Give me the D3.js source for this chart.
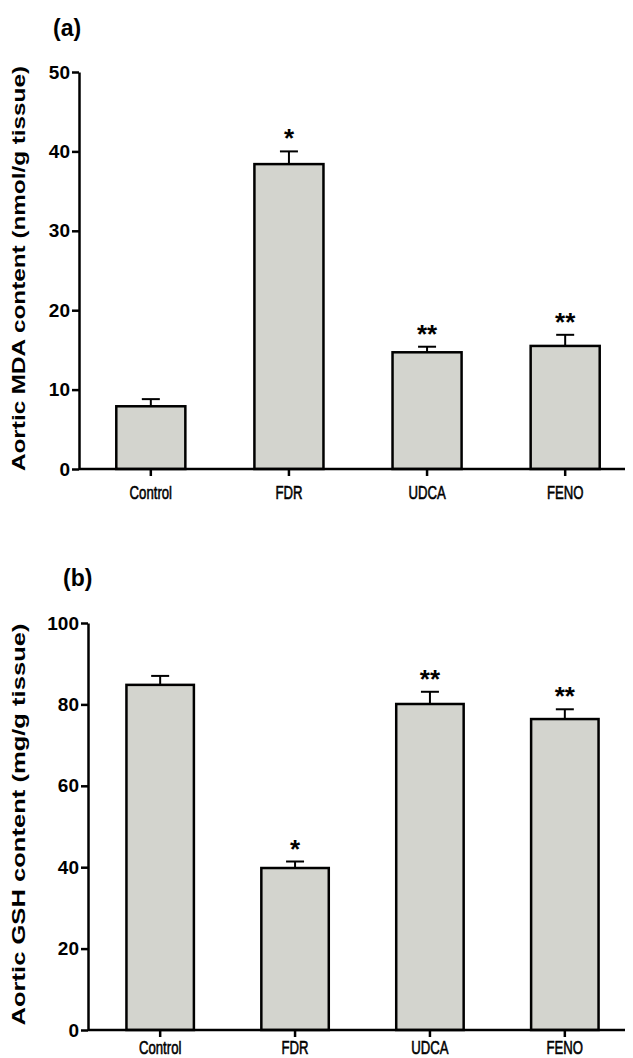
<!DOCTYPE html>
<meta charset="utf-8">
<style>
  body { margin: 0; background: #fff; }
  text { font-family: "Liberation Sans", Arial, sans-serif; font-weight: bold; fill: #000; }
  .axis path, .axis line { stroke: #000; stroke-width: 2.5; }
</style>
<body>
<script src="https://d3js.org/d3.v7.min.js"></script>
<script>
  var groups = ["Control", "FDR", "UDCA", "FENO"];

  var mdaMean = [7.9, 38.4, 14.7, 15.5];
  var mdaErr = [0.9, 1.6, 0.7, 1.4];
  var mdaSig = ["", "*", "**", "**"];
  var mdaTicks = [0, 10, 20, 30, 40, 50];

  var gshMean = [84.8, 39.8, 80.1, 76.4];
  var gshErr = [2.2, 1.6, 3.0, 2.4];
  var gshSig = ["", "*", "**", "**"];
  var gshTicks = [0, 20, 40, 60, 80, 100];

  var width = 633, height = 1058;
  var svg = d3.select("body").append("svg")
    .attr("width", width)
    .attr("height", height);

  drawPanel({
    tag: "(a)", tagX: 53, tagY: 36,
    left: 79, right: 625, top: 72, bottom: 469,
    outer: 0.27, max: 50, ticks: mdaTicks,
    mean: mdaMean, err: mdaErr, sig: mdaSig,
    label: "Aortic MDA content (nmol/g tissue)", labelLen: 405, labelX: 25,
    xLabelY: 499
  });

  drawPanel({
    tag: "(b)", tagX: 63, tagY: 586,
    left: 88, right: 625, top: 623, bottom: 1030,
    outer: 0.285, max: 100, ticks: gshTicks,
    mean: gshMean, err: gshErr, sig: gshSig,
    label: "Aortic GSH content (mg/g tissue)", labelLen: 402, labelX: 25,
    xLabelY: 1054
  });

  function drawPanel(p) {
    var g = svg.append("g");

    // band step chosen so the four bars sit where the original puts them
    var step = (p.right - p.left + 12) / (groups.length - 0.5 + 2 * p.outer);
    var x = d3.scaleBand()
      .domain(groups)
      .range([p.left, p.left + step * (groups.length - 0.5 + 2 * p.outer)])
      .paddingInner(0.5)
      .paddingOuter(p.outer);

    var y = d3.scaleLinear()
      .domain([0, p.max])
      .range([p.bottom, p.top]);

    g.append("text")
      .attr("x", p.tagX)
      .attr("y", p.tagY)
      .style("font-size", "23px")
      .text(p.tag);

    // bars
    g.selectAll("rect.bar")
      .data(groups)
      .join("rect")
      .attr("class", "bar")
      .attr("x", d => x(d))
      .attr("width", x.bandwidth())
      .attr("y", (d, i) => y(p.mean[i]))
      .attr("height", (d, i) => y(0) - y(p.mean[i]))
      .attr("fill", "#d3d4ce")
      .attr("stroke", "#000")
      .attr("stroke-width", 2.5);

    // error bars (upper only)
    var eb = g.selectAll("g.err")
      .data(groups)
      .join("g")
      .attr("class", "err");
    eb.append("line")
      .attr("x1", d => x(d) + x.bandwidth() / 2)
      .attr("x2", d => x(d) + x.bandwidth() / 2)
      .attr("y1", (d, i) => y(p.mean[i]))
      .attr("y2", (d, i) => y(p.mean[i] + p.err[i]))
      .attr("stroke", "#000").attr("stroke-width", 2);
    eb.append("line")
      .attr("x1", d => x(d) + x.bandwidth() / 2 - 9)
      .attr("x2", d => x(d) + x.bandwidth() / 2 + 9)
      .attr("y1", (d, i) => y(p.mean[i] + p.err[i]))
      .attr("y2", (d, i) => y(p.mean[i] + p.err[i]))
      .attr("stroke", "#000").attr("stroke-width", 2);

    // significance stars
    g.selectAll("text.sig")
      .data(groups)
      .join("text")
      .attr("class", "sig")
      .attr("x", d => x(d) + x.bandwidth() / 2)
      .attr("y", (d, i) => y(p.mean[i] + p.err[i]) - 4)
      .attr("text-anchor", "middle")
      .style("font-size", "26px")
      .text((d, i) => p.sig[i]);

    // y axis
    var ya = g.append("g")
      .attr("class", "axis")
      .attr("transform", "translate(" + p.left + ",0)")
      .call(d3.axisLeft(y).tickValues(p.ticks).tickSize(7).tickSizeOuter(0).tickPadding(2));
    ya.selectAll("text")
      .style("font-size", "19px")
      .style("font-family", "'Liberation Sans', Arial, sans-serif")
      .style("font-weight", "bold");

    // x axis
    var xa = g.append("g")
      .attr("class", "axis")
      .attr("transform", "translate(0," + p.bottom + ")")
      .call(d3.axisBottom(x).tickSize(7).tickSizeOuter(0).tickFormat(""));
    xa.select(".domain").attr("d", "M" + p.left + ",0H" + p.right);

    g.selectAll("text.xl")
      .data(groups)
      .join("text")
      .attr("class", "xl")
      .attr("text-anchor", "middle")
      .attr("transform", d => "translate(" + (x(d) + x.bandwidth() / 2) + "," + p.xLabelY + ") scale(0.85,1.15)")
      .style("font-size", "15.5px")
      .style("font-weight", "normal")
      .style("stroke", "#000").style("stroke-width", 0.5)
      .text(d => d);

    // y label
    g.append("text")
      .attr("transform", "translate(" + p.labelX + "," + ((p.top + p.bottom) / 2 - 2) + ") rotate(-90)")
      .attr("text-anchor", "middle")
      .attr("textLength", p.labelLen)
      .attr("lengthAdjust", "spacingAndGlyphs")
      .style("font-size", "18px")
      .text(p.label);
  }
</script>
</body>
